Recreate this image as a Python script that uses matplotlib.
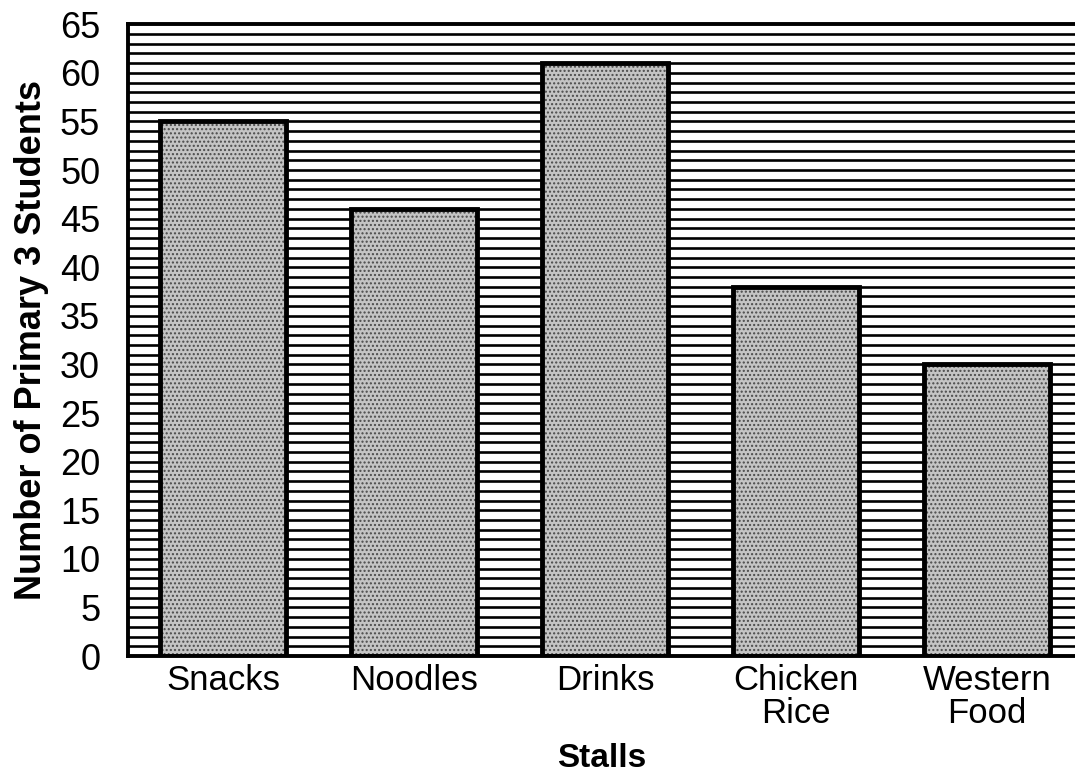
import matplotlib
matplotlib.use("Agg")
import matplotlib.pyplot as plt

# datos
stalls = ["Snacks", "Noodles", "Drinks", "Chicken\nRice", "Western\nFood"]
students = [55, 46, 61, 38, 30]
y_ticks = list(range(0, 66, 5))

plt.rcParams["font.family"] = ["Liberation Sans", "DejaVu Sans"]
plt.rcParams["hatch.linewidth"] = 1.0

fig = plt.figure(figsize=(10.75, 7.82), dpi=100)
ax = fig.add_axes([0.119, 0.161, 0.881, 0.808])

x = list(range(len(stalls)))

# rayado horizontal de fondo (una línea por unidad)
for v in range(1, 65):
    ax.axhline(v, color="black", lw=1.9, zorder=1)

# barras: relleno punteado + borde negro grueso
ax.bar(x, students, width=0.66, color="#c4c4c4", edgecolor="#4a4a4a",
       hatch="....", linewidth=0, zorder=2)
ax.bar(x, students, width=0.66, facecolor="none", edgecolor="black",
       linewidth=3.5, zorder=3)

ax.set_xlim(-0.5, 4.46)
ax.set_ylim(0, 65)
ax.set_yticks(y_ticks)
ax.set_xticks(x)
ax.set_xticklabels(stalls, fontsize=25, linespacing=1.0)
ax.tick_params(axis="y", length=0, pad=20, labelsize=26)
ax.tick_params(axis="x", length=0, pad=6)

for side in ["left", "bottom", "top"]:
    ax.spines[side].set_linewidth(2.8)
ax.spines["right"].set_visible(False)

ax.set_ylabel("Number of Primary 3 Students", fontsize=26, fontweight="bold",
              labelpad=8)
ax.set_xlabel("Stalls", fontsize=24, fontweight="bold", labelpad=9)

fig.savefig("out.png", dpi=100)
